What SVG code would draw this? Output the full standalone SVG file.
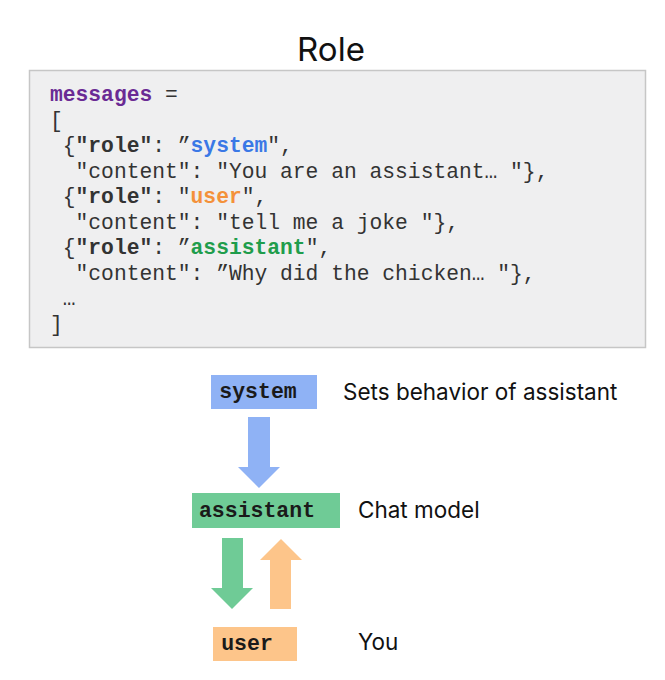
<svg xmlns="http://www.w3.org/2000/svg" width="665" height="680" viewBox="0 0 665 680">
<style>
.code{font-family:"Liberation Mono","Courier New",monospace;font-size:21.3px;fill:#333;white-space:pre}
.b{font-weight:bold}
.lbl{font-family:"Inter","Noto Sans",sans-serif;font-size:22.5px;fill:#111}
.node{font-family:"Liberation Mono","Courier New",monospace;font-size:21.5px;font-weight:bold;fill:#1a1a1a}
</style>
<rect width="665" height="680" fill="#ffffff"/>
<text x="331" y="61" text-anchor="middle" font-family="Inter,'Noto Sans',sans-serif" font-size="33" fill="#111">Role</text>
<g id="code">
<rect x="29.5" y="70.5" width="616" height="277" fill="#efeff0" stroke="#c6c6c6" stroke-width="1.5"/>
<text class="code" x="50" y="101" xml:space="preserve"><tspan class="b" fill="#6a2a94">messages</tspan> =</text>
<text class="code" x="50" y="127" xml:space="preserve">[</text>
<text class="code" x="50" y="152" xml:space="preserve"> {<tspan class="b">"role"</tspan>: ”<tspan class="b" fill="#3a78e6">system</tspan>",</text>
<text class="code" x="50" y="178" xml:space="preserve">  "content": "You are an assistant… "},</text>
<text class="code" x="50" y="203" xml:space="preserve"> {<tspan class="b">"role"</tspan>: "<tspan class="b" fill="#f4913a">user</tspan>",</text>
<text class="code" x="50" y="229" xml:space="preserve">  "content": "tell me a joke "},</text>
<text class="code" x="50" y="254" xml:space="preserve"> {<tspan class="b">"role"</tspan>: ”<tspan class="b" fill="#1f9d4c">assistant</tspan>",</text>
<text class="code" x="50" y="280" xml:space="preserve">  "content": ”Why did the chicken… "},</text>
<text class="code" x="50" y="305" xml:space="preserve"> …</text>
<text class="code" x="50" y="331" xml:space="preserve">]</text>
</g>
<g id="node-system">
<rect x="211" y="375" width="106" height="34" fill="#8fb2f5"/>
<text class="node" x="258" y="398" text-anchor="middle">system</text>
<text class="lbl" x="343" y="400">Sets behavior of assistant</text>
</g>
<g id="node-assistant">
<rect x="192" y="493" width="148" height="35" fill="#6fcb96"/>
<text class="node" x="257" y="517" text-anchor="middle">assistant</text>
<text class="lbl" x="358" y="518">Chat model</text>
</g>
<g id="node-user">
<rect x="213" y="627" width="84" height="34" fill="#fdc58a"/>
<text class="node" x="247" y="650" text-anchor="middle">user</text>
<text class="lbl" x="358" y="650">You</text>
</g>
<g id="connectors">
<polygon points="248,417 270,417 270,467 280,467 259,488 238,467 248,467" fill="#8fb2f5"/>
<polygon points="222,538 243,538 243,588 253,588 232,609 211,588 222,588" fill="#6fcb96"/>
<polygon points="270,609 291,609 291,560 302,560 281,539 260,560 270,560" fill="#fdc58a"/>
</g>
</svg>
